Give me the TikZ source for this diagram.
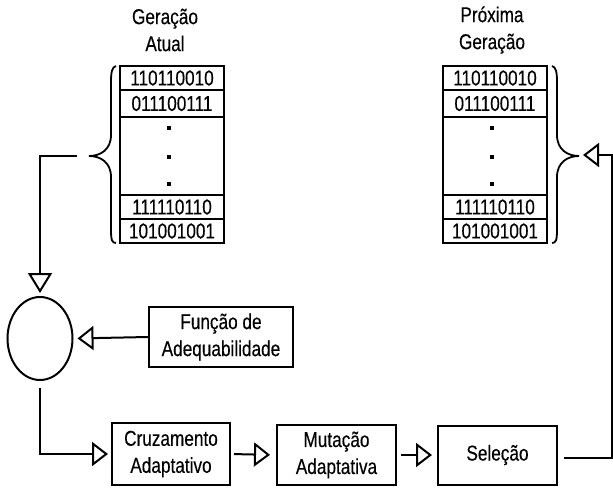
\documentclass[tikz,border=0pt]{standalone}
\usepackage{fontspec}
\setmainfont{Liberation Sans}[FakeStretch=0.8, FakeBold=0.3]
\usetikzlibrary{arrows.meta,shapes.geometric}
\begin{document}
\begin{tikzpicture}[x=1pt,y=-1pt,
  every node/.style={font=\fontsize{21.5}{27}\selectfont, align=center, inner sep=0pt},
  cell/.style={draw, line width=2pt, minimum width=104pt},
  blk/.style={draw, line width=2pt},
  arr/.style={line width=2pt, -{Triangle[open, length=16pt, width=24pt, line width=2pt]}},
  arrv/.style={line width=2pt, -{Triangle[open, length=20pt, width=24pt, line width=2pt]}},
  brc/.style={line width=1.8pt},
  dotm/.style={fill, minimum size=3.2pt, inner sep=0pt}]
\useasboundingbox (0,0) rectangle (613,488);
% titles
\node (tl) at (165,30) {Geração\\Atual};
\node (tr) at (492,30) {Próxima\\Geração};
% left table
\node[cell, minimum height=24pt] (L1) at (172,78) {110110010};
\node[cell, minimum height=27pt] (L2) at (172,103.5) {011100111};
\node[cell, minimum height=78pt] (L3) at (172,156) {};
\node[cell, minimum height=24pt] (L4) at (172,207) {111110110};
\node[cell, minimum height=24pt] (L5) at (172,231) {101001001};
\node[dotm] (Ld1) at (169,128) {};
\node[dotm] (Ld2) at (169,157) {};
\node[dotm] (Ld3) at (169,184) {};
% right table
\node[cell, minimum height=24pt] (R1) at (495,78) {110110010};
\node[cell, minimum height=27pt] (R2) at (495,103.5) {011100111};
\node[cell, minimum height=78pt] (R3) at (495,156) {};
\node[cell, minimum height=24pt] (R4) at (495,207) {111110110};
\node[cell, minimum height=24pt] (R5) at (495,231) {101001001};
\node[dotm] (Rd1) at (492,128) {};
\node[dotm] (Rd2) at (492,157) {};
\node[dotm] (Rd3) at (492,184) {};
% braces
\draw[brc] (116,66) .. controls (112,67) and (111,72) .. (111,82) -- (111,135)
  .. controls (111,150) and (100,156) .. (89,156)
  .. controls (100,156) and (111,162) .. (111,177) -- (111,230)
  .. controls (111,240) and (112,243) .. (116,243);
\draw[brc] (552,66) .. controls (556,67) and (557,72) .. (557,82) -- (557,135)
  .. controls (557,150) and (568,156) .. (579,156)
  .. controls (568,156) and (557,162) .. (557,177) -- (557,230)
  .. controls (557,240) and (556,243) .. (552,243);
% process nodes
\node[draw, ellipse, line width=2pt, minimum width=65pt, minimum height=83pt] (ell) at (40,338.5) {};
\node[blk, minimum width=144pt, minimum height=60pt] (fit) at (221,337) {Função de\\Adequabilidade};
\node[blk, minimum width=118pt, minimum height=62pt] (cruz) at (171,454) {Cruzamento\\Adaptativo};
\node[blk, minimum width=119pt, minimum height=60pt] (mut) at (336.5,455) {Mutação\\Adaptativa};
\node[blk, minimum width=119pt, minimum height=59pt] (sel) at (497.5,455) {Seleção};
% connectors
\coordinate (lstart) at (77,156);
\coordinate (rtip) at (579,155);
\coordinate (rcorner) at (612,458);
\draw[arrv, shorten >=3pt] (lstart) -| (ell.north);
\draw[arr, shorten >=4pt] (fit.west) -- (ell.east);
\draw[arr, shorten <=7pt, shorten >=3pt] (ell.south) |- (cruz.west);
\draw[arr, shorten <=3pt, shorten >=6pt] (cruz.east) -- (mut.west);
\draw[arr, shorten <=4pt, shorten >=5pt] (mut.east) -- (sel.west);
\draw[arr, shorten >=4pt] ([shift={(6pt,-3pt)}]sel.east) -- (rcorner) |- (rtip);
\end{tikzpicture}
\end{document}
